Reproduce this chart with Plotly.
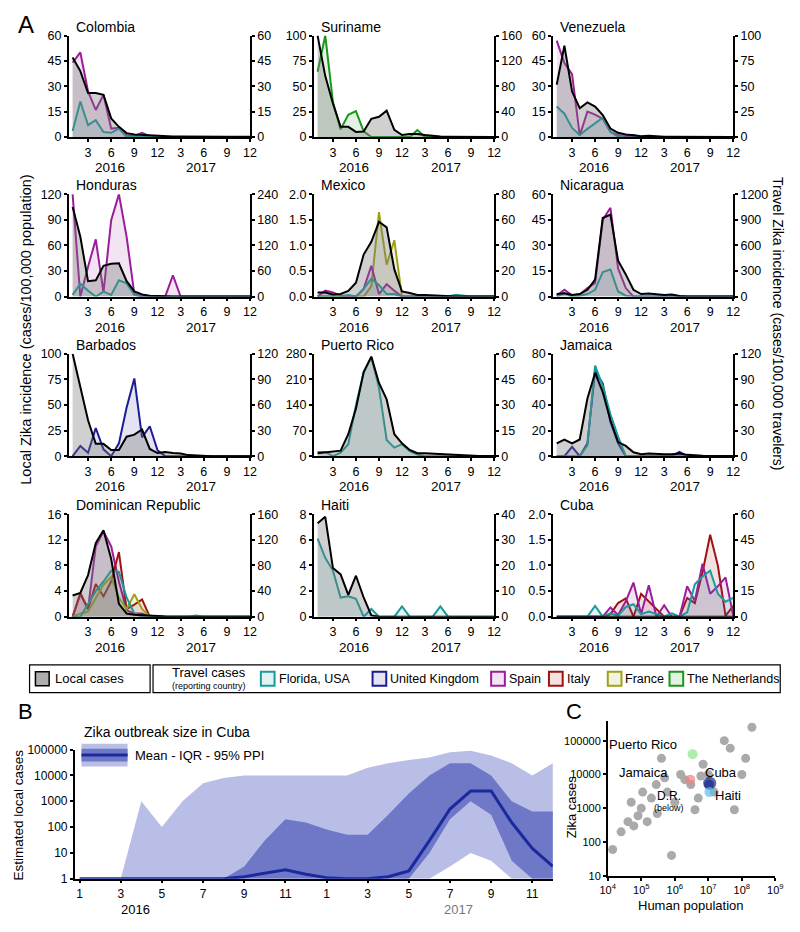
import plotly.graph_objects as go

W, H = 800, 932
months = list(range(1, 25))

# ---------------- Panel A data (month 1 = Jan 2016 ... 24 = Dec 2017) ----------------
colombia_local   = [47, 39, 26, 26, 25, 11, 6, 2.3, 1.5, 1.2, 1, 0.6, 0.4, 0.3, 0.3, 0.2, 0.2, 0.1, 0.1, 0.1, 0.1, 0.1, 0.1, 0.1]
colombia_spain   = [44, 50, 27, 16, 25, 5, 5.5, 1, 0.5, 2.5, 0.5, 0, 0, 0, 0, 0, 0, 0, 0, 0, 0, 0, 0, 0]
colombia_florida = [3.5, 21, 7, 10, 3, 2.5, 5, 0, 0, 0, 0.5, 0, 0, 0, 0, 0, 0, 0, 0, 0, 0, 0, 0, 0]

suriname_local = [100, 60, 33, 10, 10, 5, 5.5, 18, 20, 26, 7, 2, 3, 3, 2, 1, 0.5, 0.3, 0.2, 0.1, 0.1, 0.1, 0.1, 0.1]
suriname_neth  = [103, 160, 55, 12, 35, 41, 9, 0, 0, 0, 0, 0, 0, 11, 0, 0, 0, 0, 0, 0, 0, 0, 0, 0]

venezuela_local   = [31, 54, 27, 17, 20.5, 18, 13, 5, 2.5, 1.5, 1, 0.5, 0.8, 0.3, 0.2, 0.1, 0.1, 0.1, 0, 0, 0, 0, 0, 0]
venezuela_spain   = [95, 73, 62, 1.5, 25, 22, 18, 5, 2, 0.5, 0, 0, 0, 0, 0, 0, 0, 0, 0, 0, 0, 0, 0, 0]
venezuela_florida = [30, 23, 9, 2, 8, 13.5, 19, 5.5, 0, 2, 2, 0, 0.5, 0, 0, 0, 0, 0, 0, 0, 0, 0, 0, 0]

honduras_local   = [105, 70, 18, 19, 36, 38.5, 39, 18, 6, 2.5, 1, 0.5, 0.3, 0.2, 0.1, 0, 0, 0, 0, 0, 0, 0, 0, 0]
honduras_spain   = [240, 0, 70, 134, 10, 179, 240, 140, 6, 0, 0, 0, 0, 50, 0, 0, 0, 0, 0, 0, 0, 0, 0, 0]
honduras_florida = [4, 30, 14, 0, 11.5, 4, 38, 31, 4, 0, 0, 0, 0, 0, 0, 0, 0, 0, 0, 0, 0, 0, 0, 0]

mexico_local   = [0.08, 0.08, 0.04, 0.05, 0.11, 0.27, 0.82, 1.07, 1.46, 1.35, 0.53, 0.1, 0.07, 0.03, 0.03, 0.02, 0.01, 0, 0, 0, 0, 0, 0, 0]
mexico_france  = [0, 0, 0, 0, 0, 0, 0, 8, 66, 25, 44, 0, 0, 0, 0, 0, 0, 0, 0, 0, 0, 0, 0, 0]
mexico_spain   = [0, 4.6, 3.3, 0.8, 0, 0, 6, 24, 2, 9.7, 4.6, 0, 0, 0, 0, 0, 0, 0, 0, 0, 0, 0, 0, 0]
mexico_florida = [0, 0, 0, 0, 1.3, 0, 6, 14, 9, 2, 2, 0, 0, 0, 0, 0, 0, 0, 1.5, 0.5, 0, 0, 0, 0]

nicaragua_local   = [1.5, 2, 1, 1.5, 4, 10, 46, 48, 21, 13, 4, 1.5, 1.8, 1.3, 1, 1.2, 0.3, 0.1, 0, 0, 0, 0, 0, 0]
nicaragua_spain   = [10, 80, 15, 25, 100, 157, 900, 1040, 330, 100, 0, 0, 0, 0, 0, 0, 0, 0, 0, 0, 0, 0, 0, 0]
nicaragua_florida = [0, 40, 0, 10, 30, 80, 288, 318, 60, 10, 0, 0, 0, 0, 0, 0, 0, 0, 0, 0, 0, 0, 0, 0]

barbados_local = [100, 67, 35, 12, 12, 6, 6, 19, 21, 26, 7, 3, 4, 3, 2.5, 1, 0.5, 0.2, 0, 0, 0, 0, 0, 0]
barbados_uk    = [0, 12, 4, 33, 8, 0, 15, 57, 91, 22, 35, 7, 0, 0, 0, 0, 0, 0, 0, 0, 0, 0, 0, 0]

puertorico_local   = [8, 10, 12, 15, 60, 130, 230, 272, 200, 155, 60, 35, 17, 8, 8, 7, 4, 3, 3, 2, 0.5, 0.3, 0.2, 0.2]
puertorico_florida = [2.5, 2.5, 0, 2, 7, 30, 49, 58, 40, 9.5, 5, 7, 3, 1, 0, 0, 0, 0, 0, 0, 0, 0, 0, 0]

jamaica_local   = [10, 13, 10, 13, 45, 65, 50, 28, 11, 8, 3, 1.5, 2, 1.5, 1.5, 1.5, 2, 1, 0.5, 0.3, 0.2, 0.2, 0.2, 0.2]
jamaica_uk      = [0, 0, 11, 0, 15, 100, 85, 40, 15, 0, 0, 0, 0, 0, 0, 0, 5, 0, 0, 0, 0, 0, 0, 0]
jamaica_florida = [0, 0, 0, 0, 12.7, 106, 82, 49, 23, 0, 0, 0, 0, 0, 0, 0, 0, 0, 0, 0, 0, 0, 0, 0]

dr_local   = [3.3, 3.7, 6.5, 11.5, 13.5, 9, 2, 0.5, 0.3, 0.2, 0.2, 0.1, 0.05, 0, 0, 0, 0, 0, 0, 0, 0, 0, 0, 0]
dr_spain   = [0, 35, 12, 110, 133, 110, 55, 10, 5, 5, 0, 0, 0, 0, 0, 0, 0, 0, 0, 0, 0, 0, 0, 0]
dr_italy   = [0, 37, 12, 51, 32, 55, 101, 12, 19, 27, 0, 0, 0, 0, 0, 0, 0, 0, 0, 0, 0, 0, 0, 0]
dr_france  = [0, 5, 8, 30, 50, 62, 30, 12, 35, 12, 0, 0, 0, 0, 0, 0, 0, 0, 0, 0, 0, 0, 0, 0]
dr_florida = [0, 0, 20, 40, 55, 72, 70, 30, 5, 0, 0, 1, 0, 0, 0, 0, 2, 0, 0, 0, 0, 0, 0, 0]

haiti_local   = [7.3, 7.8, 3.8, 3.3, 1.7, 3.2, 1.5, 0.1, 0, 0, 0, 0, 0, 0, 0, 0, 0, 0, 0, 0, 0, 0, 0, 0]
haiti_florida = [30.5, 23, 18, 7.5, 8, 7, 0, 3, 0, 0, 0, 4, 0, 0, 0, 0, 4, 0, 0, 0, 0, 0, 0, 0]

cuba_local   = [0] * 24
cuba_italy   = [0, 0, 0, 0, 0, 0, 0, 1.5, 8, 10.7, 0, 13.4, 9, 5, 0, 0, 0, 11, 8, 26, 48, 30, 0.5, 6.3]
cuba_spain   = [0, 0, 0, 0, 0, 0, 0, 5.4, 1, 9, 20, 1.5, 18.4, 0, 6.7, 0, 0, 17.8, 9.2, 31, 13.4, 17.8, 23, 0.6]
cuba_florida = [0, 0, 0, 0, 0, 6.3, 0, 2, 0.6, 5.7, 7.3, 1.5, 3, 1.5, 0, 2, 0, 2.5, 19, 23.5, 27, 13.4, 8.8, 11]

month_ticks = [3, 6, 9, 12, 15, 18, 21, 24]
month_tick_labels = ["3", "6", "9", "12", "3", "6", "9", "12"]

# ---------------- Panel B data (Cuba estimated outbreak size) ----------------
b_mean   = [1, 1, 1, 1, 1, 1, 1, 1, 1.2, 1.6, 2.2, 1.5, 1.1, 1, 1, 1.2, 2, 30, 500, 2500, 2500, 150, 15, 3]
b_iqr_lo = [1, 1, 1, 1, 1, 1, 1, 1, 1, 1, 1, 1, 1, 1, 1, 1, 1, 10, 200, 1000, 300, 5, 1, 1]
b_iqr_hi = [1, 1, 1, 1, 1, 1, 1, 1, 3, 30, 200, 150, 80, 50, 50, 300, 2000, 10000, 30000, 30000, 10000, 1000, 400, 400]
b_ppi_lo = [1, 1, 1, 1, 1, 1, 1, 1, 1, 1, 1, 1, 1, 1, 1, 1, 1, 1, 3, 10, 5, 1, 1, 1]
b_ppi_hi = [1, 1, 1, 1000, 100, 1000, 5000, 8000, 10000, 10000, 10000, 10000, 10000, 10000, 20000, 30000, 40000, 50000, 80000, 90000, 60000, 30000, 10000, 30000]
b_ticks = [1, 3, 5, 7, 9, 11, 13, 15, 17, 19, 21, 23]
b_tick_labels = ["1", "3", "5", "7", "9", "11", "1", "3", "5", "7", "9", "11"]

# ---------------- Panel C data (population vs Zika cases) ----------------
c_pop   = [1.4e4, 2.5e4, 4e4, 5e4, 6e4, 8e4, 1e5, 1.1e5, 1.5e5, 2e5, 2.8e5, 3e5, 4e5, 5e5, 6e5, 8e5, 1e6, 1.5e6, 2e6, 3e6, 4e6, 5e6, 6e6, 7e6, 1e7, 1.5e7, 3e7, 4.5e7, 6e7, 1e8, 1.3e8, 2e8]
c_cases = [60, 200, 400, 1500, 300, 600, 1000, 3000, 400, 2000, 5000, 700, 30000, 8000, 3000, 40, 1500, 10000, 7000, 5000, 900, 2000, 9000, 20000, 10000, 3000, 100000, 60000, 900, 10000, 30000, 250000]
c_hl_names = ["Puerto Rico", "Jamaica", "Cuba", "D.R.", "Haiti"]
c_hl_pop   = [3.4e6, 2.9e6, 1.1e7, 1.05e7, 1.08e7]
c_hl_cases = [40000, 7000, 5500, 5000, 3000]

# ---------------- styling helpers ----------------
TEAL, NAVY, PURPLE, RED, OLIVE, GREEN = "#1A9A9A", "#1B1B96", "#9A1E9A", "#A01212", "#A0A016", "#1A961A"
COLORS = {"florida": TEAL, "uk": NAVY, "spain": PURPLE, "italy": RED, "france": OLIVE, "neth": GREEN}

def rgba(h, a):
    h = h.lstrip("#")
    return "rgba(%d,%d,%d,%.2f)" % (int(h[0:2], 16), int(h[2:4], 16), int(h[4:6], 16), a)

def px(x):
    return x / W

def py(y):
    return 1 - y / H

FONT = "Liberation Sans, Arial, sans-serif"

def note(text, x, y, size=13, xanchor="center", color="black", angle=0, xref="paper"):
    return dict(text=text, xref=xref, yref="paper", x=(px(x) if xref == "paper" else x), y=py(y),
                xanchor=xanchor, yanchor="middle", showarrow=False, textangle=angle,
                font=dict(family=FONT, size=size, color=color))

panels = [
    ("Colombia", colombia_local, [("spain", colombia_spain), ("florida", colombia_florida)], 60, 60, None),
    ("Suriname", suriname_local, [("neth", suriname_neth)], 100, 160, None),
    ("Venezuela", venezuela_local, [("spain", venezuela_spain), ("florida", venezuela_florida)], 60, 100, None),
    ("Honduras", honduras_local, [("spain", honduras_spain), ("florida", honduras_florida)], 120, 240, None),
    ("Mexico", mexico_local, [("france", mexico_france), ("spain", mexico_spain), ("florida", mexico_florida)], 2.0, 80, ".1f"),
    ("Nicaragua", nicaragua_local, [("spain", nicaragua_spain), ("florida", nicaragua_florida)], 60, 1200, None),
    ("Barbados", barbados_local, [("uk", barbados_uk)], 100, 120, None),
    ("Puerto Rico", puertorico_local, [("florida", puertorico_florida)], 280, 60, None),
    ("Jamaica", jamaica_local, [("uk", jamaica_uk), ("florida", jamaica_florida)], 80, 120, None),
    ("Dominican Republic", dr_local, [("spain", dr_spain), ("italy", dr_italy), ("france", dr_france), ("florida", dr_florida)], 16, 160, None),
    ("Haiti", haiti_local, [("florida", haiti_florida)], 8, 40, None),
    ("Cuba", cuba_local, [("italy", cuba_italy), ("spain", cuba_spain), ("florida", cuba_florida)], 2.0, 60, ".1f"),
]

cols = [(62, 247), (312, 496), (556, 740)]
rows = [(29, 132), (190, 294), (352, 456), (515, 619)]

fig = go.Figure()
layout = dict(
    width=W, height=H, margin=dict(l=0, r=0, t=0, b=0),
    paper_bgcolor="white", plot_bgcolor="rgba(0,0,0,0)",
    showlegend=False, font=dict(family=FONT, size=12, color="black"),
)
annotations = []
shapes = []

def axis_style(fs, tl=4):
    return dict(showline=True, linecolor="black", linewidth=1.5, ticks="outside", ticklen=tl,
                tickwidth=1.5, tickcolor="black", showgrid=False, zeroline=False,
                tickfont=dict(family=FONT, size=fs, color="black"))

axA = axis_style(12.5, 3)

def yname(n):
    return "yaxis" if n == 1 else "yaxis%d" % n

def yref(n):
    return "y" if n == 1 else "y%d" % n

for i, (name, local, travel, lmax, rmax, fmt) in enumerate(panels):
    r, c = divmod(i, 3)
    x0, x1 = cols[c]
    y0, y1 = rows[r]
    xn = i + 1
    yb = 2 * i + 1   # travel axis (right)
    yo = 2 * i + 2   # local axis (left), overlay
    xa = "x" if xn == 1 else "x%d" % xn
    layout["xaxis" if xn == 1 else "xaxis%d" % xn] = dict(
        axA, domain=[px(x0), px(x1)], anchor=yref(yb), range=[0.5, 24],
        tickvals=month_ticks, ticktext=month_tick_labels)
    rt = [rmax * k / 4 for k in range(5)]
    lt = [lmax * k / 4 for k in range(5)]
    layout[yname(yb)] = dict(axA, domain=[py(y1), py(y0)], anchor=xa, side="right",
                             range=[0, rmax], tickvals=rt, ticktext=["%g" % v for v in rt])
    layout[yname(yo)] = dict(axA, domain=[py(y1), py(y0)], anchor=xa, side="left",
                             overlaying=yref(yb), range=[0, lmax], tickvals=lt,
                             ticktext=[(("%.1f" % v) if fmt else ("%g" % v)) for v in lt])
    for key, vals in travel:
        col = COLORS[key]
        fig.add_trace(go.Scatter(x=months, y=vals, xaxis=xa, yaxis=yref(yb), mode="lines",
                                 line=dict(color=col, width=2), fill="tozeroy",
                                 fillcolor=rgba(col, 0.12)))
    fig.add_trace(go.Scatter(x=months, y=local, xaxis=xa, yaxis=yref(yo), mode="lines",
                             line=dict(color="black", width=2), fill="tozeroy",
                             fillcolor="rgba(120,120,120,0.35)"))
    annotations.append(note(name, x0 + 5, y0 - 9, 14, "left"))
    for yr, xm in (("2016", 5.8), ("2017", 17.7)):
        annotations.append(note(yr, xm, y1 + 31, 13.5, "center", xref=xa))

# ---------------- Panel B ----------------
xb, yb_ = "x13", "y25"
axB = axis_style(12, 3)
layout["xaxis13"] = dict(axB, domain=[px(68), px(556)], anchor=yb_, range=[0.76, 24],
                         tickvals=b_ticks, ticktext=b_tick_labels)
layout["yaxis25"] = dict(axB, domain=[py(885), py(754)], anchor=xb, type="log", range=[0, 5],
                         tickvals=[1, 10, 100, 1000, 10000, 100000],
                         ticktext=["1", "10", "100", "1000", "10000", "100000"])
LIGHT, MID, DARK = "#B9BEE6", "#6E78C6", "#1A2A9E"
fig.add_trace(go.Scatter(x=months, y=b_ppi_hi, xaxis=xb, yaxis=yb_, mode="lines", line=dict(width=0, color=LIGHT)))
fig.add_trace(go.Scatter(x=months, y=b_ppi_lo, xaxis=xb, yaxis=yb_, mode="lines", line=dict(width=0, color=LIGHT),
                         fill="tonexty", fillcolor=LIGHT))
fig.add_trace(go.Scatter(x=months, y=b_iqr_hi, xaxis=xb, yaxis=yb_, mode="lines", line=dict(width=0, color=MID)))
fig.add_trace(go.Scatter(x=months, y=b_iqr_lo, xaxis=xb, yaxis=yb_, mode="lines", line=dict(width=0, color=MID),
                         fill="tonexty", fillcolor=MID))
fig.add_trace(go.Scatter(x=months, y=b_mean, xaxis=xb, yaxis=yb_, mode="lines", line=dict(width=3, color=DARK)))
annotations.append(note("2016", 3.7, 916, 13, xref=xb))
annotations.append(note("2017", 19.4, 916, 13, color="#777777", xref=xb))
annotations.append(note("Estimated local cases", 11, 820, 13.5, angle=-90))
annotations.append(note("Zika outbreak size in Cuba", 75, 736, 14, "left"))
annotations.append(note("Mean - IQR - 95% PPI", 128, 760, 13, "left"))
shapes.append(dict(type="rect", xref="paper", yref="paper", x0=px(75), x1=px(122), y0=py(771), y1=py(748),
                   fillcolor=LIGHT, line=dict(width=0)))
shapes.append(dict(type="rect", xref="paper", yref="paper", x0=px(75), x1=px(122), y0=py(766), y1=py(753),
                   fillcolor=MID, line=dict(width=0)))
shapes.append(dict(type="line", xref="paper", yref="paper", x0=px(75), x1=px(122), y0=py(759.5), y1=py(759.5),
                   line=dict(color=DARK, width=3)))

# ---------------- Panel C ----------------
xc, yc = "x14", "y26"
axC = axis_style(11, 3)
layout["xaxis14"] = dict(axC, domain=[px(612), px(783)], anchor=yc, type="log", range=[4, 9],
                         tickvals=[1e4, 1e5, 1e6, 1e7, 1e8, 1e9],
                         ticktext=["10<sup>4</sup>", "10<sup>5</sup>", "10<sup>6</sup>", "10<sup>7</sup>",
                                   "10<sup>8</sup>", "10<sup>9</sup>"])
layout["yaxis26"] = dict(axC, domain=[py(882), py(725)], anchor=xc, type="log", range=[1, 5.58],
                         tickvals=[10, 100, 1000, 10000, 100000],
                         ticktext=["10", "100", "1000", "10000", "100000"])
fig.add_trace(go.Scatter(x=c_pop, y=c_cases, xaxis=xc, yaxis=yc, mode="markers",
                         marker=dict(size=9, color="#AAAAAA", line=dict(width=0))))
hl_colors = ["#8CE68C", "#F08080", "#1A2A8A", "#1A2A8A", "#5BC0EB"]
hl_sizes = [10, 10, 13, 10, 10]
fig.add_trace(go.Scatter(x=c_hl_pop, y=c_hl_cases, xaxis=xc, yaxis=yc, mode="markers",
                         marker=dict(size=hl_sizes, color=hl_colors, line=dict(width=0))))
annotations.append(note("Zika cases", 575, 812, 13, angle=-90))
annotations.append(note("Human population", 697, 912, 13))
for t, xx, yy, sz in (("Puerto Rico", 648, 749, 13), ("Jamaica", 648, 777, 13), ("Cuba", 728, 777, 13),
                      ("D.R.", 674, 801, 12), ("(below)", 674, 813, 9), ("Haiti", 735, 801, 13)):
    annotations.append(note(t, xx, yy, sz))

# ---------------- Legend row ----------------
shapes.append(dict(type="rect", xref="paper", yref="paper", x0=px(22), x1=px(145), y0=py(696), y1=py(668),
                   line=dict(color="black", width=1.2)))
shapes.append(dict(type="rect", xref="paper", yref="paper", x0=px(28), x1=px(42), y0=py(689), y1=py(675),
                   fillcolor="rgba(120,120,120,0.6)", line=dict(color="black", width=1.5)))
annotations.append(note("Local cases", 46, 682, 13, "left"))
shapes.append(dict(type="rect", xref="paper", yref="paper", x0=px(148), x1=px(788), y0=py(696), y1=py(668),
                   line=dict(color="black", width=1.2)))
annotations.append(note("Travel cases", 205, 676, 13))
annotations.append(note("(reporting country)", 205, 689, 9))
legend_items = [("florida", "Florida, USA", 258), ("uk", "United Kingdom", 372), ("spain", "Spain", 493),
                ("italy", "Italy", 552), ("france", "France", 612), ("neth", "The Netherlands", 675)]
for key, label, sx in legend_items:
    col = COLORS[key]
    shapes.append(dict(type="rect", xref="paper", yref="paper", x0=px(sx), x1=px(sx + 14), y0=py(689), y1=py(675),
                       fillcolor=rgba(col, 0.12), line=dict(color=col, width=2)))
    annotations.append(note(label, sx + 16, 682, 12.5, "left"))

# ---------------- Titles ----------------
annotations.append(note("A", 18, 18, 24))
annotations.append(note("B", 18, 715, 22))
annotations.append(note("C", 578, 715, 22))
annotations.append(note("Local Zika incidence (cases/100,000 population)", 18, 328, 14.5, angle=-90))
annotations.append(note("Travel Zika incidence (cases/100,000 travelers)", 786, 322, 14, angle=90))

layout["annotations"] = annotations
layout["shapes"] = shapes
fig.update_layout(**layout)
fig.write_html("out.html", config={"displayModeBar": False},
               post_script="document.body.style.margin='0px';")
